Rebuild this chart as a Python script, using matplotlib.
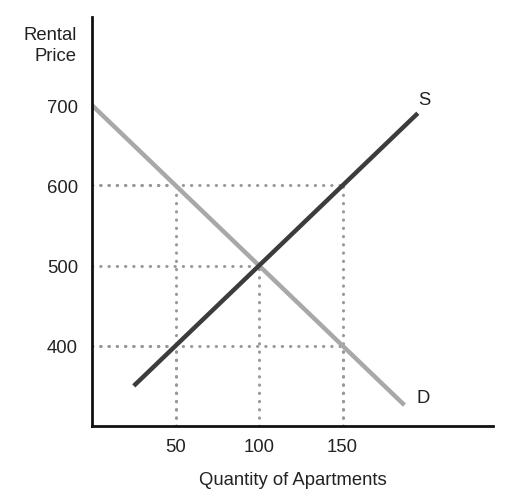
import matplotlib
matplotlib.use("Agg")
import matplotlib.pyplot as plt

plt.rcParams['font.family'] = ['Liberation Sans', 'DejaVu Sans']

# demand and supply line endpoints (quantity, price)
demand_q = [0, 187]
demand_p = [700, 326]
supply_q = [25, 195]
supply_p = [350, 690]

# dotted guide points
guide_q = [50, 100, 150, 150, 50]
guide_p = [600, 500, 600, 400, 400]

x_ticks = [50, 100, 150]
y_ticks = [400, 500, 600, 700]

fs = 13.3
ink = '#222222'

fig = plt.figure(figsize=(5.12, 5.02), dpi=100)
ax = fig.add_axes([92/512, 75/502, 401/512, 409/502])
ax.set_xlim(0, 240)
ax.set_ylim(300, 810)

for q, p in zip(guide_q, guide_p):
    ax.plot([0, q], [p, p], color='#999999', lw=2.2, ls=(0, (0.1, 2.6)),
            dash_capstyle='round', zorder=1)
    ax.plot([q, q], [300, p], color='#999999', lw=2.2, ls=(0, (0.1, 2.6)),
            dash_capstyle='round', zorder=1)

ax.plot(demand_q, demand_p, color='#a8a8a8', lw=3.2, solid_capstyle='butt', zorder=2)
ax.plot(supply_q, supply_p, color='#3c3c3c', lw=3.2, solid_capstyle='butt', zorder=3)

ax.text(199, 707, 'S', fontsize=fs, color=ink, ha='center', va='center')
ax.text(198, 335, 'D', fontsize=fs, color=ink, ha='center', va='center')

for s in ['top', 'right']:
    ax.spines[s].set_visible(False)
for s in ['left', 'bottom']:
    ax.spines[s].set_linewidth(2)
    ax.spines[s].set_color('#111111')

ax.set_xticks(x_ticks)
ax.set_yticks(y_ticks)
ax.tick_params(length=0, labelsize=fs, colors=ink)
ax.tick_params(axis='x', pad=9)
ax.tick_params(axis='y', pad=10)

ax.set_xlabel('Quantity of Apartments', fontsize=fs, color=ink, labelpad=11)
ax.text(-9, 775, 'Rental\nPrice', fontsize=fs, color=ink, ha='right',
        va='center', multialignment='right', linespacing=1.3)

fig.savefig('out.png', dpi=100)
